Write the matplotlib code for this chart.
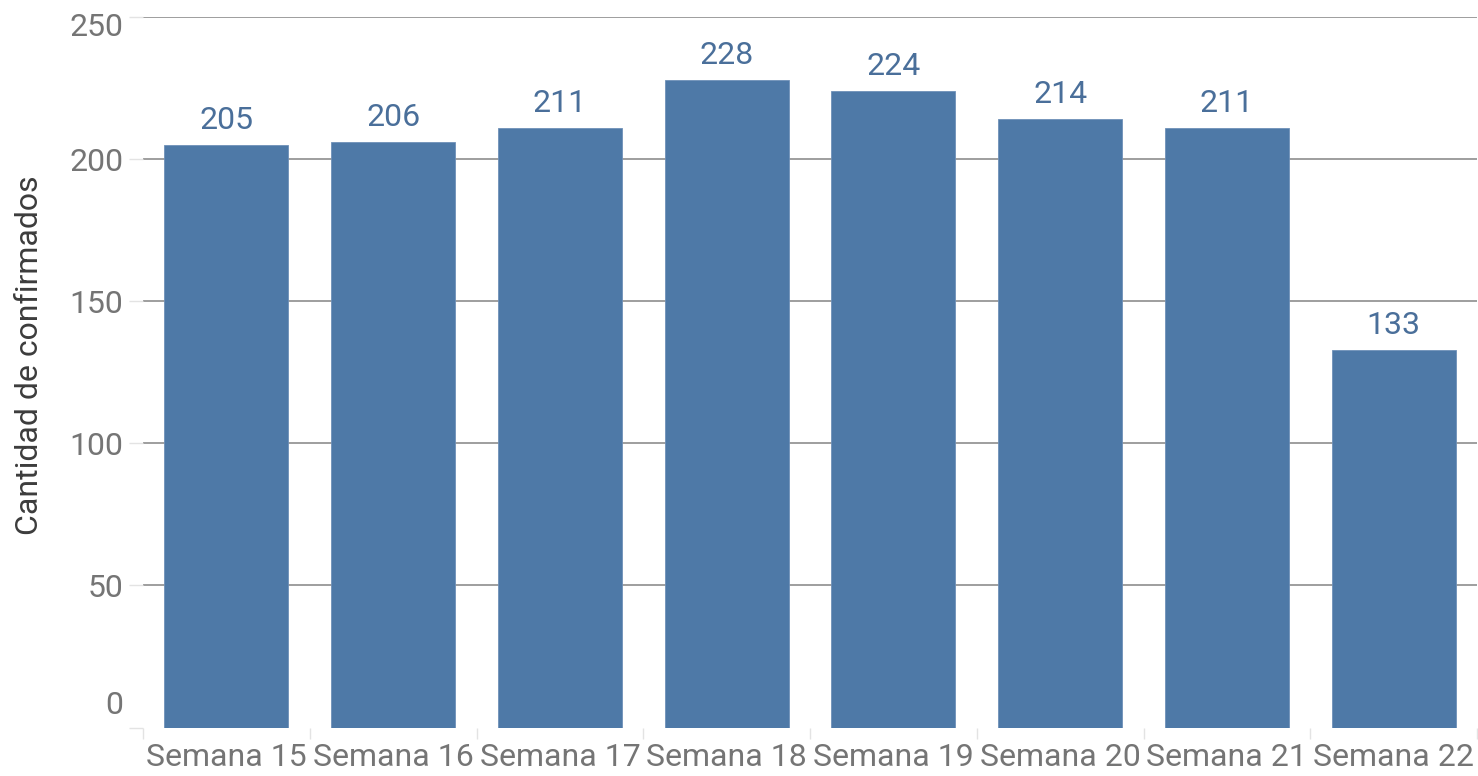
import matplotlib
matplotlib.use("Agg")
import matplotlib.pyplot as plt
from matplotlib.transforms import ScaledTranslation
import numpy as np

categories = ["Semana 15", "Semana 16", "Semana 17", "Semana 18",
              "Semana 19", "Semana 20", "Semana 21", "Semana 22"]
values = [205, 206, 211, 228, 224, 214, 211, 133]
yticks = [0, 50, 100, 150, 200, 250]
ylabel = "Cantidad de confirmados"

plt.rcParams['font.family'] = ['Roboto', 'DejaVu Sans']

W, H, DPI = 1478, 776, 100
fig = plt.figure(figsize=(W / DPI, H / DPI), dpi=DPI)
ax = fig.add_axes([143 / W, (H - 727.6) / H, (1477 - 143) / W, (727.6 - 17) / H])

bar_color = "#4e79a7"
tick_color = "#757575"
x = np.arange(len(categories))
ax.bar(x, values, width=0.745, color=bar_color, edgecolor="#6f90b8", linewidth=0.6, zorder=3)

for xi, v in zip(x, values):
    ax.annotate(str(v), (xi, v), xytext=(0, 11.5), textcoords="offset points",
                ha="center", va="baseline", fontsize=23, color="#4a6f9a", zorder=4)

ax.set_xlim(-0.5, len(categories) - 0.5)
ax.set_ylim(0, 250)

for s in ax.spines.values():
    s.set_visible(False)

# gridlines (not at zero)
for t in yticks[1:]:
    ax.axhline(t, color="#8e8e8e", linewidth=1.2, zorder=1)

ax.set_yticks(yticks)
ax.set_yticklabels([str(t) for t in yticks])
ax.tick_params(axis="y", length=10, width=1, color="#e3e3e3", pad=4.3,
               labelsize=23, labelcolor=tick_color)

# shift first/last y labels like the reference
labels = ax.get_yticklabels()
labels[0].set_transform(labels[0].get_transform() + ScaledTranslation(0, 25 / DPI, fig.dpi_scale_trans))
labels[-1].set_transform(labels[-1].get_transform() + ScaledTranslation(0, -8 / DPI, fig.dpi_scale_trans))

ax.set_xticks(x)
ax.set_xticklabels(categories)
ax.set_xticks(np.arange(len(categories) + 1) - 0.5, minor=True)
ax.tick_params(axis="x", which="major", length=0, pad=11, labelsize=23, labelcolor=tick_color)
ax.tick_params(axis="x", which="minor", length=8, width=1, color="#e3e3e3")

fig.text(30 / W, 1 - 355.5 / H, ylabel, rotation=90, ha="center", va="center",
         fontsize=23, color="#3c3c3c")

fig.savefig("out.png", dpi=DPI)
